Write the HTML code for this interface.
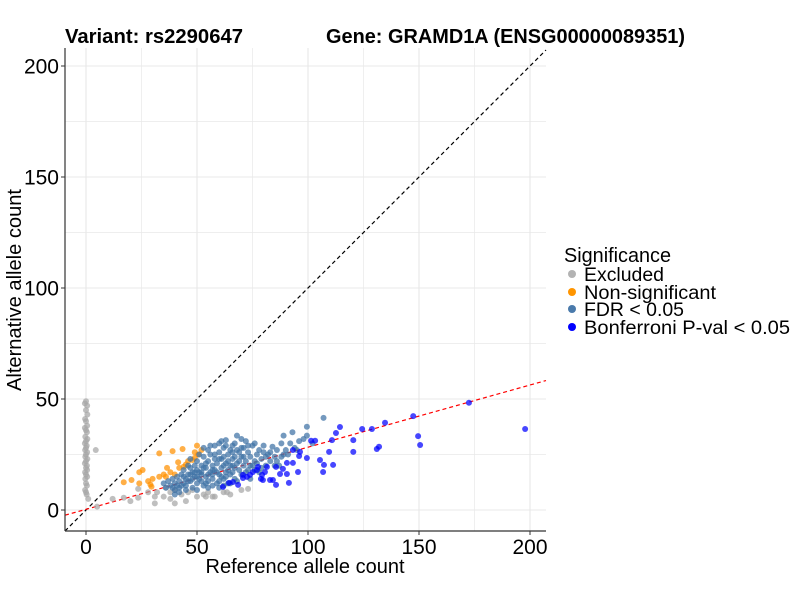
<!DOCTYPE html>
<html><head><meta charset="utf-8">
<style>
html,body{margin:0;padding:0;background:#fff;}
svg{display:block;font-family:"Liberation Sans",Arial,sans-serif;}
</style></head>
<body>
<svg id="chart" width="800" height="600" viewBox="0 0 800 600">
<rect width="800" height="600" fill="#fff"/>
<g id="grid"></g>
<g id="refs"></g>
<g id="pts"></g>
<g id="axes"></g>
<text x="65" y="43" font-size="20" font-weight="bold" textLength="178" lengthAdjust="spacingAndGlyphs">Variant: rs2290647</text>
<text x="326" y="43" font-size="20" font-weight="bold" textLength="359" lengthAdjust="spacingAndGlyphs">Gene: GRAMD1A (ENSG00000089351)</text>
<text x="305" y="573" font-size="20" text-anchor="middle" textLength="199" lengthAdjust="spacingAndGlyphs">Reference allele count</text>
<text transform="translate(21,290) rotate(-90)" font-size="20" text-anchor="middle" textLength="202" lengthAdjust="spacingAndGlyphs">Alternative allele count</text>
<g>
<text x="564" y="262" font-size="20" textLength="107" lengthAdjust="spacingAndGlyphs">Significance</text>
<g><circle cx="572" cy="274" r="4" fill="#b3b3b3"/><text x="584" y="281" font-size="19" textLength="80" lengthAdjust="spacingAndGlyphs">Excluded</text></g>
<g><circle cx="572" cy="292" r="4" fill="#ff9500"/><text x="584" y="299" font-size="19" textLength="132" lengthAdjust="spacingAndGlyphs">Non-significant</text></g>
<g><circle cx="572" cy="309" r="4" fill="#4a7aab"/><text x="584" y="316" font-size="19" textLength="100" lengthAdjust="spacingAndGlyphs">FDR &lt; 0.05</text></g>
<g><circle cx="572" cy="327" r="4" fill="#0000ff"/><text x="584" y="334" font-size="19" textLength="206" lengthAdjust="spacingAndGlyphs">Bonferroni P-val &lt; 0.05</text></g>
</g>
</svg>
<script>
const xTicks=[0,50,100,150,200];
const yTicks=[0,50,100,150,200];
const slopeRed=0.28, interceptRed=0.3;
const excluded=[[0,49],[-0.5,48],[0.5,47],[0,45],[0.6,43],[-0.4,41],[0,40],[0.5,38],[-0.5,37],[0,36],[0.4,35],[-0.3,33],[0.6,32],[0,31],[-0.5,30],[0.3,29],[0,28],[-0.4,27],[0.5,26],[0,25],[-0.3,24],[0.6,23],[0,22],[-0.5,21],[0.4,20],[0,19],[0.5,18],[-0.4,17],[0,16],[0.5,15],[-0.3,14],[0,12],[0.4,11],[-0.4,9],[0,8],[0.3,7],[1,5],[4.4,27],[5,1.5],[12,5],[17,5.5],[20,4],[23.5,5.5],[23.5,9.5],[28,8],[31,6],[31,3],[32,8],[35,6],[38,8],[38,5],[40,9],[43,7],[46,8],[50,6],[54,6],[58,6],[62,8],[65,7],[70,9],[40,3],[45,4],[48,9],[36,10],[55,8],[53,7],[57,6],[63.5,8],[73,9.5]];
const nonSig=[[33,25.5],[39,26.5],[43.5,27.5],[50,29],[25.5,18],[24,17],[20.5,13.5],[17,12.5],[24,12],[28,13],[29,11.5],[29.5,10.5],[33,15],[36.5,19],[35,16],[38,17],[41.5,21.5],[42,19],[44,19.5],[45,20.5],[48,22.5],[49,23.5],[50.5,25],[36,15],[40,16],[30,14],[46,22],[52,27],[49,26]];
const fdr=[[35,12],[36,10],[37,13],[38,11],[39,14],[40,12],[40,9],[41,15],[42,13],[42,10],[43,16],[44,12],[44,18],[45,14],[45,11],[46,16],[46,20],[47,13],[47,23],[48,17],[48,10],[49,15],[49,20],[50,12],[50,18],[50,22],[51,14],[51,25],[52,17],[52,20],[53,11],[53,24],[54,15],[54,19],[55,22],[55,13],[55,27],[56,17],[56,25],[57,20],[57,14],[58,23],[58,18],[58,29],[59,12],[59,21],[60,16],[60,26],[60,30],[61,19],[61,23],[62,14],[62,28],[63,21],[63,17],[63,31.5],[64,25],[64,12],[65,20],[65,27],[66,17],[66,23],[67,30],[67,14],[68,21],[68,33.5],[69,26],[69,18],[70,24],[70,16],[71,28],[71,20],[72,22],[72,31],[73,18],[73,26],[74,24],[74,14],[75,29],[75,20],[76,30],[76,22],[77,25],[78,17],[78,27],[79,23],[80,29],[81,20],[82,25],[83,22],[84,28.5],[85,24],[86,27],[87,20],[88,30],[89,33.5],[89,25],[90,27],[92,30],[93,35],[94,28],[96,31],[98,32],[99.5,33.5],[99.5,37.5],[102,30],[107,41.5],[40,7],[42,8],[45,9],[50,9],[55,10],[57,11],[60,10],[62,11],[65,12],[68,13],[52,16],[54,21],[47,19],[66,29],[63,29],[70,32],[80,26],[86,22],[56,29],[53,28],[61,31],[43,11],[46,13],[48,14],[51,17],[53,19],[55,16],[57,18],[59,17],[61,15],[62,20],[64,18],[66,20],[67,24],[69,22],[71,24],[72,17],[74,20],[76,18],[77,21],[79,19],[81,24],[83,26],[85,20],[88,24],[91,25],[95,27],[58,25],[60,23],[62,24],[64,22],[66,26],[68,27],[70,28],[73,29],[49,17],[52,13],[54,12],[57,16],[60,13],[63,15],[65,16],[67,19],[44,15],[41,11],[39,10],[47,16],[50,15]];
const bonf=[[172.5,48.3],[197.8,36.5],[147.4,42.3],[149.6,33.3],[150.5,29.3],[134.7,39.3],[131,27.5],[132,28.5],[128.8,36.5],[124.4,36.5],[120.4,31.5],[120.4,26.2],[114.4,37.4],[112.6,34.7],[110.8,31.5],[109.5,26.2],[111.3,20.3],[107.2,20.3],[106.8,17.1],[105.4,22.5],[101.4,31.2],[103.2,31.2],[99.5,23.4],[96,24.3],[95.5,17.1],[93.2,21.2],[90.5,21.2],[90.5,16.2],[91.4,12.2],[88.7,18.5],[87.4,16.2],[85.6,19.4],[85.6,11.3],[84.2,13.5],[82.9,13.5],[80.6,17.1],[81.5,19.4],[79.3,15.8],[79.7,13.5],[78.8,14],[77.5,19.4],[75.2,17.1],[73.9,15.8],[72.5,14.9],[70.7,15.8],[70.7,14.4],[68.5,11.3],[66.2,12.6],[64.4,12.2],[61.7,10.4],[77,18],[96.4,26.2],[93.2,27]];

const L=65,R=546,T=48,B=531;
const xs=v=>86+v*2.22, ys=v=>510-v*2.22;
const xMin=(L-86)/2.22, xMax=(R-86)/2.22;
const NS="http://www.w3.org/2000/svg";
function mk(parent,tag,attrs){const e=document.createElementNS(NS,tag);for(const k in attrs)e.setAttribute(k,attrs[k]);document.getElementById(parent).appendChild(e);return e;}
for(let v=-25;v<=225;v+=25){
  const x=xs(v); if(x>L&&x<R){const g=mk('grid','line',{x1:x,x2:x,y1:T,y2:B,stroke:'#e8e8e8','stroke-width':v%50===0?1.1:0.7});
  
  }
  const y=ys(v); if(y>T&&y<B){const g=mk('grid','line',{x1:L,x2:R,y1:y,y2:y,stroke:'#e8e8e8','stroke-width':v%50===0?1.1:0.7});
  
  }
}
{const yTop=(T-510)/-2.22;const xe=Math.min(xMax,yTop);
const l=mk('refs','line',{x1:xs(xMin),y1:ys(xMin),x2:xs(xe),y2:ys(xe),stroke:'#000','stroke-width':1.2,'stroke-dasharray':'4,3'});


const r=mk('refs','line',{x1:L,y1:ys(interceptRed+slopeRed*xMin),x2:R,y2:ys(interceptRed+slopeRed*xMax),stroke:'#ff0000','stroke-width':1.2,'stroke-dasharray':'4,3'});

}
function draw(arr,col,name){arr.forEach(p=>{const c=mk('pts','circle',{cx:xs(p[0]),cy:ys(p[1]),r:3,fill:col,'fill-opacity':0.72});

});}
draw(excluded,'#a6a6a6','point-excluded');
draw(nonSig,'#ff9000','point-non-significant');
draw(fdr,'#3f72a5','point-fdr');
draw(bonf,'#0000ff','point-bonferroni');
{const a=mk('axes','line',{x1:L,x2:L,y1:T,y2:B,stroke:'#333','stroke-width':1.2});


const b=mk('axes','line',{x1:L,x2:R,y1:B,y2:B,stroke:'#333','stroke-width':1.2});

}
xTicks.forEach(v=>{const x=xs(v);mk('axes','line',{x1:x,x2:x,y1:B,y2:B+4,stroke:'#333'});
const t=mk('axes','text',{x:x,y:B+23,'font-size':21,'text-anchor':'middle',fill:'#000'});t.textContent=v;

});
yTicks.forEach(v=>{const y=ys(v);mk('axes','line',{x1:L-4,x2:L,y1:y,y2:y,stroke:'#333'});
const t=mk('axes','text',{x:L-6,y:y+7.5,'font-size':21,'text-anchor':'end',fill:'#000'});t.textContent=v;

});
</script>
</body></html>
